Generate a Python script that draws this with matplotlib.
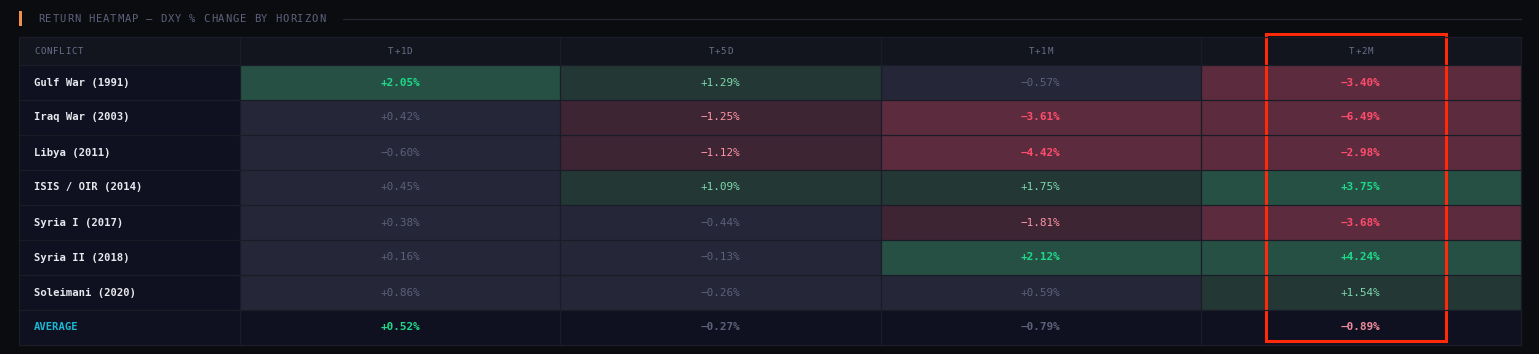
import numpy as np
import matplotlib
matplotlib.use("Agg")
import matplotlib.pyplot as plt
from matplotlib.colors import ListedColormap, BoundaryNorm
from matplotlib.patches import Rectangle

# data
conflicts = ["Gulf War (1991)", "Iraq War (2003)", "Libya (2011)", "ISIS / OIR (2014)",
             "Syria I (2017)", "Syria II (2018)", "Soleimani (2020)"]
horizons = ["T+1D", "T+5D", "T+1M", "T+2M"]
t1d = [2.05, 0.42, -0.60, 0.45, 0.38, 0.16, 0.86]
t5d = [1.29, -1.25, -1.12, 1.09, -0.44, -0.13, -0.26]
t1m = [-0.57, -3.61, -4.42, 1.75, -1.81, 2.12, 0.59]
t2m = [-3.40, -6.49, -2.98, 3.75, -3.68, 4.24, 1.54]
averages = [0.52, -0.27, -0.79, -0.89]

values = np.array([t1d, t5d, t1m, t2m]).T

FONT = "DejaVu Sans Mono"
BG = "#0b0c0f"
GRID = "#1a1c27"

# buckets: strong red, light red, neutral, light green, strong green
bounds = [-100, -2, -1, 1, 2, 100]
cell_cmap = ListedColormap(["#5c2b3d", "#3e2534", "#252738", "#233734", "#265044"])
text_cols = ["#ff4d6d", "#ff95a5", "#5c6079", "#7dd9ae", "#1ed98a"]
text_bold = [True, False, False, False, True]
norm = BoundaryNorm(bounds, cell_cmap.N)


def bucket(v):
    return int(np.digitize(v, bounds[1:-1]))


def avg_style(v):
    if v > 0.5:
        return "#1ed98a"
    if v < -0.85:
        return "#f08c9c"
    return "#5c6079"


def spaced_text(ax, x, y, s, step, **kw):
    # manual letter spacing
    for i, ch in enumerate(s):
        ax.text(x + i * step, y, ch, **kw)


fig = plt.figure(figsize=(15.39, 3.54), dpi=100)
fig.patch.set_facecolor(BG)
ax = fig.add_axes([0, 0, 1, 1])
ax.set_xlim(0, 1539)
ax.set_ylim(354, 0)
ax.axis("off")

# layout
left, right = 19, 1521
top, head_h, row_h = 37, 28, 35
label_w = 221
col_edges = np.linspace(left + label_w, right, len(horizons) + 1)
n = len(conflicts)
row_edges = top + head_h + np.arange(n + 1) * row_h
avg_top = row_edges[-1]
bottom = avg_top + row_h

# title
ax.add_patch(Rectangle((18.5, 10.5), 3, 15, color="#f0904a", lw=0))
title = "RETURN HEATMAP \u2014 DXY % CHANGE BY HORIZON"
spaced_text(ax, 38, 19.5, title, 7.2, family=FONT, fontsize=7.6,
            color="#5e627c", va="center", ha="left")
ax.plot([343, right], [19, 19], color="#262938", lw=0.8)

# table frame pieces
ax.add_patch(Rectangle((left, top), right - left, bottom - top,
                       facecolor="#0f1120", lw=0))
ax.add_patch(Rectangle((left, top), right - left, head_h,
                       facecolor="#12151e", lw=0))

# heatmap cells
ax.pcolormesh(col_edges, row_edges, values, cmap=cell_cmap, norm=norm,
              edgecolors="none")

# grid lines
for y in [top] + list(row_edges) + [bottom]:
    ax.plot([left, right], [y, y], color=GRID, lw=0.9)
for x in [left] + list(col_edges):
    ax.plot([x, x], [top, bottom], color=GRID, lw=0.9)

# header
spaced_text(ax, 34, top + head_h / 2, "CONFLICT", 6.2, family=FONT,
            fontsize=6.6, color="#6b6f8a", va="center", ha="left")
centers = (col_edges[:-1] + col_edges[1:]) / 2
for cx, h in zip(centers, horizons):
    w = 6.2 * len(h)
    spaced_text(ax, cx - w / 2 + 0.5, top + head_h / 2, h, 6.2, family=FONT,
                fontsize=6.6, color="#6b6f8a", va="center", ha="left")

# rows
for i, name in enumerate(conflicts):
    cy = (row_edges[i] + row_edges[i + 1]) / 2
    ax.text(34, cy, name, family=FONT, fontsize=7.6, fontweight="bold",
            color="#e8e8ee", va="center", ha="left")
    for j, cx in enumerate(centers):
        v = values[i, j]
        b = bucket(v)
        ax.text(cx, cy, f"{v:+.2f}%".replace("-", "\u2212"), family=FONT,
                fontsize=7.9, color=text_cols[b],
                fontweight="bold" if text_bold[b] else "normal",
                va="center", ha="center")

# average row
cy = avg_top + row_h / 2
ax.text(34, cy, "AVERAGE", family=FONT, fontsize=7.6, fontweight="bold",
        color="#1ab8d4", va="center", ha="left")
for cx, v in zip(centers, averages):
    ax.text(cx, cy, f"{v:+.2f}%".replace("-", "\u2212"), family=FONT,
            fontsize=7.9, fontweight="bold", color=avg_style(v),
            va="center", ha="center")

# highlight box
ax.add_patch(Rectangle((1265.5, 34), 180, 306.5, fill=False,
                       edgecolor="#ff2a0a", lw=2.2))

fig.savefig("out.png", dpi=100, facecolor=BG)
